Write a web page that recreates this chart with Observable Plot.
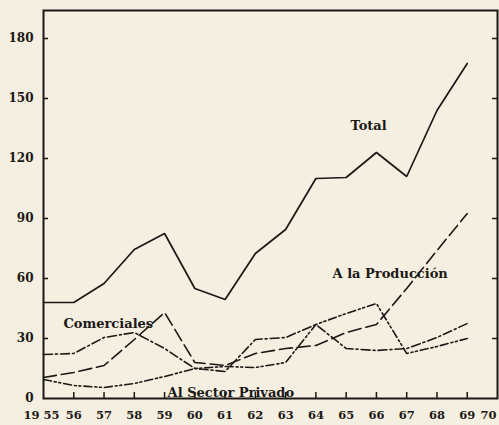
<!DOCTYPE html>
<html><head><meta charset="utf-8">
<script src="https://cdn.jsdelivr.net/npm/d3@7"></script>
<script src="https://cdn.jsdelivr.net/npm/@observablehq/plot@0.6"></script>
<style>
html,body{margin:0;padding:0;background:#f5efe1;}
#chart svg{display:block;background:#f5efe1;}
</style></head><body><div id="chart"></div>
<script>
const years = [1955,1956,1957,1958,1959,1960,1961,1962,1963,1964,1965,1966,1967,1968,1969];
const total = [48,48,57.5,74.5,82.5,55,49.5,72.5,84.5,110,110.5,123,111,144,167.5];
const produccion = [10.5,13,16.5,29.5,43,18,16.5,22.5,25,26.5,33,37,55,74,92.5];
const comerciales = [22,22.5,30.5,33,25,15,13.5,29.5,30.5,37,25,24,25,30.5,37.5];
const privado = [9.5,6.5,5.5,7.5,11,15,16,15.5,18,37,42.5,47.5,22.5,26,30];

const yTicks = [0,30,60,90,120,150,180];
const xTicks = [1955,1956,1957,1958,1959,1960,1961,1962,1963,1964,1965,1966,1967,1968,1969,1970];
const xTickLabels = ["19 55","56","57","58","59","60","61","62","63","64","65","66","67","68","69","70"];

const labelText = ["Total","A la Producción","Comerciales","Al Sector Privado"];
const labelYear = [1965.74,1964.55,1955.66,1959.1];
const labelValue = [136.5,62.5,37.5,3];
const labelAnchor = ["middle","start","start","start"];

const seriesNames = ["Total","A la Producción","Comerciales","Al Sector Privado"];
const seriesValues = [total, produccion, comerciales, privado];
const dashes = [null, "13,5", "9,3,2,3", "8,3,2,2.5,2,3"];

const rows = seriesNames.flatMap((name, i) => years.map((yr, j) => ({series: name, year: yr, value: seriesValues[i][j]})));
const labels = labelText.map((t, i) => ({text: t, year: labelYear[i], value: labelValue[i], anchor: labelAnchor[i]}));
const xLab = xTicks.map((t, i) => ({year: t, text: xTickLabels[i]}));

const ink = "#1b1916";
const font = "DejaVu Serif";
const xLabStyle = {x: "year", text: "text", frameAnchor: "bottom", dy: 20, fill: ink, fontSize: 11.5, fontWeight: "bold", fontFamily: font};

const chart = Plot.plot({
  width: 499,
  height: 425,
  marginLeft: 43,
  marginRight: 2,
  marginTop: 10,
  marginBottom: 27,
  style: {background: "#f5efe1", fontFamily: font},
  x: {domain: [1955, 1970], axis: null},
  y: {domain: [0, 194], axis: null},
  marks: [
    ...seriesNames.map((name, i) => Plot.line(rows.filter(d => d.series === name), {
      x: "year", y: "value", stroke: ink, strokeWidth: i === 0 ? 1.7 : 1.6,
      strokeDasharray: dashes[i], strokeLinejoin: "miter"
    })),
    Plot.frame({stroke: ink, strokeWidth: 2}),
    Plot.tickY(yTicks.filter(d => d > 0), {y: d => d, stroke: ink, strokeWidth: 1.5, insetRight: 449}),
    Plot.tickY(yTicks.filter(d => d > 0), {y: d => d, stroke: ink, strokeWidth: 1.5, insetLeft: 449}),
    Plot.tickX(xTicks.slice(1, -1), {x: d => d, stroke: ink, strokeWidth: 1.5, insetTop: 382}),
    Plot.text(yTicks, {y: d => d, text: d => String(d), frameAnchor: "left", dx: -10, textAnchor: "end",
      fill: ink, fontSize: 12, fontWeight: "bold", fontFamily: font}),
    Plot.text(xLab.slice(0, 1), {...xLabStyle, dx: -2}),
    Plot.text(xLab.slice(1, -1), xLabStyle),
    Plot.text(xLab.slice(-1), {...xLabStyle, textAnchor: "end", dx: -1}),
    ...labels.map(l => Plot.text([l], {x: "year", y: "value", text: "text", textAnchor: l.anchor,
      fill: ink, fontSize: 13, fontWeight: "bold", fontFamily: font, letterSpacing: 1}))
  ]
});
document.getElementById("chart").appendChild(chart);
</script></body></html>
